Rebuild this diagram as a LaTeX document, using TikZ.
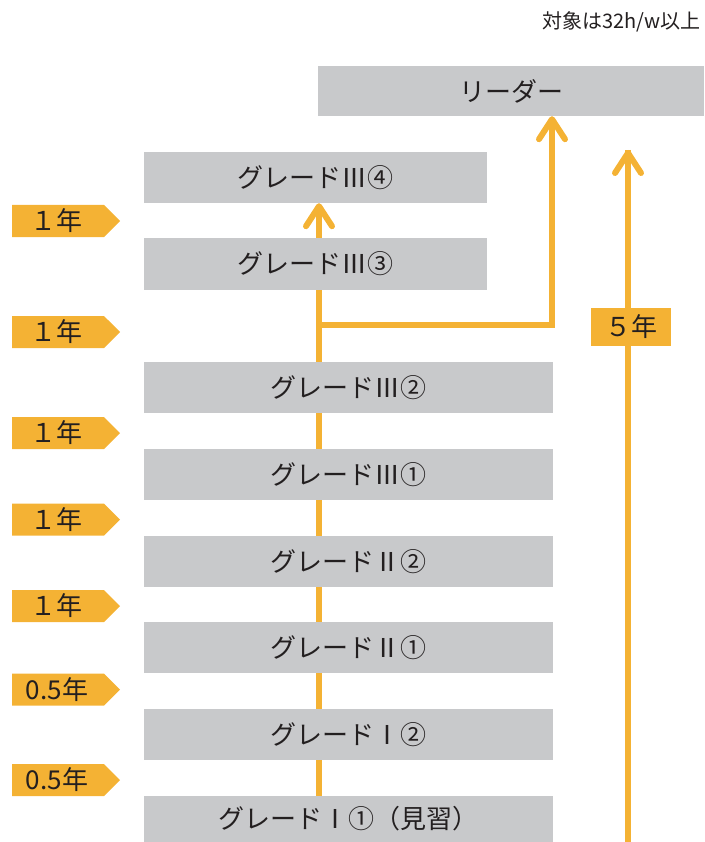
\documentclass[tikz,border=0pt]{standalone}
\usepackage{fontspec}
\setmainfont{Noto Sans CJK JP}
\usetikzlibrary{arrows.meta,shapes.symbols,backgrounds}
\definecolor{og}{HTML}{F4B234}
\definecolor{gb}{HTML}{C8C9CB}
\definecolor{tx}{HTML}{231F20}
\begin{document}
\begin{tikzpicture}[x=1pt,y=-1pt,
  gbox/.style={fill=gb, inner sep=0pt, text=tx, font=\fontsize{26}{26}\selectfont},
  tagbox/.style={signal, signal to=east, signal pointer angle=90, fill=og, minimum width=108pt, minimum height=32pt, inner sep=0pt},
  tagtext/.style={text=tx, font=\fontsize{26}{26}\selectfont, inner sep=0pt},
  oline/.style={draw=og, line width=6pt},
  oarrow/.style={oline, -{Straight Barb[length=20pt, width=26pt, line cap=round, line join=round]}},
  ]
\useasboundingbox (0,0) rectangle (704,842);
% top note
\node[anchor=east, text=tx, font=\fontsize{20}{20}\selectfont, inner sep=0pt] (note) at (701,22) {対象は32h/w以上};
% boxes
\node[gbox, minimum width=386pt, minimum height=50pt] (lead) at (511,91) {リーダー};
\node[gbox, minimum width=343pt, minimum height=51pt] (g34) at (315.5,177.5) {グレードⅢ④};
\node[gbox, minimum width=343pt, minimum height=52pt] (g33) at (315.5,264) {グレードⅢ③};
\node[gbox, minimum width=409pt, minimum height=51pt] (g32) at (348.5,387.5) {グレードⅢ②};
\node[gbox, minimum width=409pt, minimum height=51pt] (g31) at (348.5,474.5) {グレードⅢ①};
\node[gbox, minimum width=409pt, minimum height=51pt] (g22) at (348.5,561.5) {グレードⅡ②};
\node[gbox, minimum width=409pt, minimum height=51pt] (g21) at (348.5,647.5) {グレードⅡ①};
\node[gbox, minimum width=409pt, minimum height=51pt] (g12) at (348.5,734.5) {グレードⅠ②};
\node[gbox, minimum width=409pt, minimum height=46pt] (g11) at (348.5,819) {グレードⅠ①（見習）};
% tags
\node[tagbox] (t1) at (58,221) {};
\node[tagtext] (l1) at (56,221) {１年};
\node[tagbox] (t2) at (58,332) {};
\node[tagtext] (l2) at (56,332) {１年};
\node[tagbox] (t3) at (58,433) {};
\node[tagtext] (l3) at (56,433) {１年};
\node[tagbox] (t4) at (58,519.5) {};
\node[tagtext] (l4) at (56,519.5) {１年};
\node[tagbox] (t5) at (58,606) {};
\node[tagtext] (l5) at (56,606) {１年};
\node[tagbox] (t6) at (58,689.5) {};
\node[tagtext] (l6) at (57,689.5) {0.5年};
\node[tagbox] (t7) at (58,780) {};
\node[tagtext] (l7) at (57,780) {0.5年};
% coordinates
\coordinate (spine) at (319,0);
\coordinate (br) at (319,325);
\coordinate (leadx) at (552,0);
\coordinate (five) at (628,842);
\coordinate (fivetop) at (628,150);
% lines behind
\begin{scope}[on background layer]
\draw[oline] (spine |- g11.north) -- (spine |- g33.south);
\draw[oline] (fivetop) -- (five);
\end{scope}
\draw[oarrow] (br) -- (br -| leadx) -- (leadx |- lead.south);
\draw[oarrow] (spine |- g33.north) -- (spine |- g34.south);
\draw[oarrow] (five) -- (fivetop);
% 5 year label
\node[fill=og, minimum width=80pt, minimum height=38pt, inner sep=0pt, text=tx, font=\fontsize{26}{26}\selectfont] (y5) at (631,327) {５年};
\end{tikzpicture}
\end{document}
